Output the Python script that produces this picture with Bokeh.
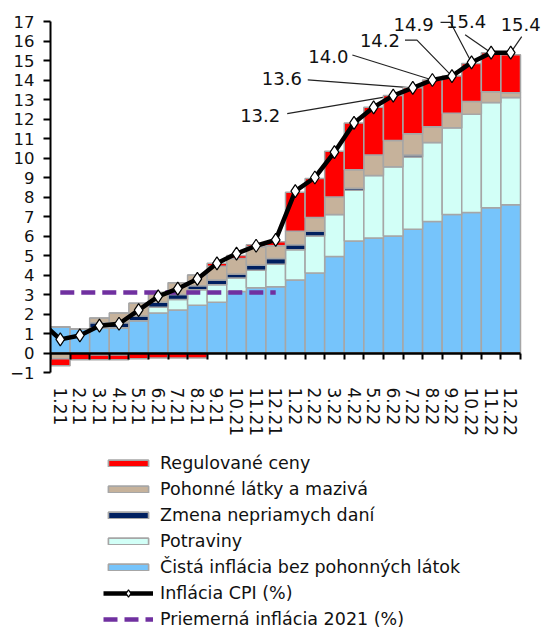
from bokeh.plotting import figure
from bokeh.models import (ColumnDataSource, Legend, LegendItem, LinearAxis,
                          FixedTicker, Label, Range1d)
from bokeh.embed import file_html
from bokeh.resources import INLINE

# ---------------- data ----------------
months = ["1.21", "2.21", "3.21", "4.21", "5.21", "6.21", "7.21", "8.21",
          "9.21", "10.21", "11.21", "12.21", "1.22", "2.22", "3.22", "4.22",
          "5.22", "6.22", "7.22", "8.22", "9.22", "10.22", "11.22", "12.22"]
cpi_dec_2020 = 1.6
cpi = [0.7, 0.9, 1.4, 1.5, 2.2, 2.9, 3.3, 3.8, 4.6, 5.1, 5.5, 5.8,
       8.3, 9.0, 10.3, 11.8, 12.6, 13.2, 13.6, 14.0, 14.2, 14.9, 15.4, 15.4]
core = [1.35, 1.25, 1.3, 1.3, 1.65, 2.05, 2.2, 2.45, 2.6, 3.15, 3.35, 3.4,
        3.75, 4.1, 4.95, 5.75, 5.9, 6.0, 6.35, 6.75, 7.1, 7.2, 7.45, 7.6]
food = [0.0, 0.0, -0.1, -0.1, 0.0, 0.3, 0.55, 0.8, 0.9, 0.7, 0.9, 1.15,
        1.55, 1.9, 2.15, 2.6, 3.2, 3.55, 3.7, 4.05, 4.45, 5.05, 5.4, 5.5]
taxes = [0.0, 0.0, 0.25, 0.25, 0.25, 0.25, 0.25, 0.2, 0.25, 0.2, 0.25, 0.3,
         0.25, 0.25, 0.0, 0.1, 0.0, 0.0, 0.1, 0.0, 0.0, 0.0, 0.0, 0.0]
fuel = [-0.3, 0.0, 0.25, 0.5, 0.65, 0.5, 0.6, 0.55, 0.7, 0.8, 0.95, 0.65,
        0.7, 0.7, 0.9, 0.95, 1.05, 1.35, 1.1, 0.8, 0.75, 0.65, 0.55, 0.25]
regulated = [-0.35, -0.35, -0.25, -0.25, -0.3, -0.25, -0.25, -0.25, 0.15, 0.15, 0.1, 0.2,
             2.0, 2.0, 2.35, 2.4, 2.45, 2.3, 2.35, 2.4, 1.9, 1.95, 2.0, 1.95]
avg_2021 = 3.1
y_min, y_max = -1, 17
y_ticks = list(range(y_min, y_max + 1))

series_names = ["Čistá inflácia bez pohonných látok", "Potraviny",
                "Zmena nepriamych daní", "Pohonné látky a mazivá", "Regulované ceny"]
series_vals = [core, food, taxes, fuel, regulated]
cpi_name = "Inflácia CPI (%)"
avg_name = "Priemerná inflácia 2021 (%)"

# ---------------- layout / style ----------------
FONT = "DejaVu Sans"
colors = ["#76C4FB", "#D2FFF7", "#002060", "#C6B29B", "#FF0000"]
BORDER = "#A6A6A6"
W, H = 543, 627
FL = 50                      # frame left (px)
PLOT_TOP, PLOT_BOTTOM, PLOT_RIGHT = 21, 372, 520   # axis box in px
n = len(months)
PX_X = (PLOT_RIGHT - FL) / n
PX_Y = (PLOT_BOTTOM - PLOT_TOP) / (y_max - y_min)
x_start = -0.5
x_end = x_start + (W - FL) / PX_X
y_end = y_max + PLOT_TOP / PX_Y
y_start = y_min - (H - PLOT_BOTTOM) / PX_Y

p = figure(width=W, height=H, output_backend="svg", toolbar_location=None,
           x_range=Range1d(x_start, x_end), y_range=Range1d(y_start, y_end),
           x_axis_location=None, min_border_left=FL, min_border_right=0,
           min_border_top=0, min_border_bottom=0)
p.outline_line_color = None
p.grid.visible = False
p.background_fill_color = "white"

x = list(range(n))
data = {"x": x}
pos_cols, neg_cols = [], []
for k, vals in enumerate(series_vals):
    data[f"p{k}"] = [max(v, 0.0) for v in vals]
    data[f"n{k}"] = [min(v, 0.0) for v in vals]
    pos_cols.append(f"p{k}")
    neg_cols.append(f"n{k}")
src = ColumnDataSource(data)

rpos = p.vbar_stack(pos_cols, x="x", width=1.0, source=src, fill_color=colors,
                    line_color=BORDER, line_width=1.5)
rneg = p.vbar_stack(neg_cols, x="x", width=1.0, source=src, fill_color=colors,
                    line_color=BORDER, line_width=1.5)

# average 2021
avg_x = x[:12]
r_avg = p.line(avg_x, [avg_2021] * len(avg_x), line_color="#7030A0", line_width=4.5,
               line_dash="14 7")

# CPI line (starts from the clipped December 2020 value)
r_cpi_line = p.line([-1] + x, [cpi_dec_2020] + cpi, line_color="black", line_width=4.5)
r_cpi_pts = p.scatter(x, cpi, marker="diamond", size=13, fill_color="white",
                      line_color="black", line_width=1.2)

# callout labels for the last seven months (offsets in screen px)
callouts = {17: ((-133, 20), [(-106, 18)]),
            18: ((-131, -9), [(-105, -8)]),
            19: ((-104, -24), [(-80, -25)]),
            20: ((-72, -36), [(-47, -36), (-35, -36)]),
            21: ((-58, -38), [(-31, -40), (-21, -40)]),
            22: ((-25, -31), [(-26, -18)]),
            23: ((10, -28), [(11, -16)])}
xs, ys = [], []
for i, (lab_off, path) in callouts.items():
    v = cpi[i]
    p.add_layout(Label(x=i + lab_off[0] / PX_X, y=v - lab_off[1] / PX_Y,
                       text=f"{v:.1f}", text_align="center", text_baseline="middle",
                       text_font=FONT, text_font_size="18px", text_color="#111111"))
    xs.append([i + dx / PX_X for dx, dy in path] + [i])
    ys.append([v - dy / PX_Y for dx, dy in path] + [v])
p.multi_line(xs, ys, line_color="#222222", line_width=1.2, level="underlay")

# y axis
yax = p.yaxis[0]
yax.ticker = FixedTicker(ticks=y_ticks)
yax.bounds = (y_min, y_max)
yax.major_tick_out = 7
yax.major_tick_in = 0
yax.minor_tick_out = 0
yax.minor_tick_in = 0
yax.axis_line_width = 2
yax.axis_line_color = "black"
yax.major_tick_line_width = 2
yax.major_label_standoff = 9
yax.major_label_text_font = FONT
yax.major_label_text_font_size = "16.5px"
yax.major_label_text_color = "#111111"

# month labels under the plot (axis fixed at the lower end of the value axis)
lab_axis = LinearAxis(fixed_location=y_min, ticker=FixedTicker(ticks=x),
                      major_label_overrides={i: m for i, m in zip(x, months)},
                      major_label_orientation="vertical", axis_line_color=None,
                      major_tick_out=0, major_tick_in=0, minor_tick_out=0, minor_tick_in=0,
                      major_label_standoff=15, major_label_text_font=FONT,
                      major_label_text_font_size="17px", major_label_text_color="#111111")
p.add_layout(lab_axis, "below")

# zero line with category-boundary ticks
bounds_ticks = [i - 0.5 for i in range(n + 1)]
zero_axis = LinearAxis(fixed_location=0, bounds=(x_start, n - 0.5),
                       ticker=FixedTicker(ticks=bounds_ticks),
                       major_label_overrides={t: "" for t in bounds_ticks},
                       major_tick_out=6, major_tick_in=0, minor_tick_out=0, minor_tick_in=0,
                       axis_line_width=2.5, axis_line_color="black",
                       major_tick_line_width=2)
p.add_layout(zero_axis, "below")

# legends (inside the frame area below the axis box)
ROW = 21
SP = 5
LEG_X = 103 - FL
leg_common = dict(label_text_font=FONT, label_text_font_size="17.5px",
                  label_text_color="#111111", label_height=ROW, label_standoff=7,
                  glyph_width=50, spacing=SP, padding=0, margin=0,
                  border_line_alpha=0, background_fill_alpha=0)
items1 = [LegendItem(label=series_names[k], renderers=[rpos[k], rneg[k]])
          for k in [4, 3, 2, 1, 0]]
items2 = [LegendItem(label=cpi_name, renderers=[r_cpi_line, r_cpi_pts]),
          LegendItem(label=avg_name, renderers=[r_avg])]
leg1_top = 452
leg1_h = 5 * ROW + 4 * SP
leg2_top = leg1_top + leg1_h + SP
leg2_h = 2 * ROW + SP
leg1 = Legend(items=items1, location=(LEG_X, H - (leg1_top + leg1_h)), glyph_height=8,
              **leg_common)
leg2 = Legend(items=items2, location=(LEG_X, H - (leg2_top + leg2_h)), glyph_height=18,
              **leg_common)
p.add_layout(leg1, "center")
p.add_layout(leg2, "center")

open("out.html", "w").write(file_html(p, INLINE))
